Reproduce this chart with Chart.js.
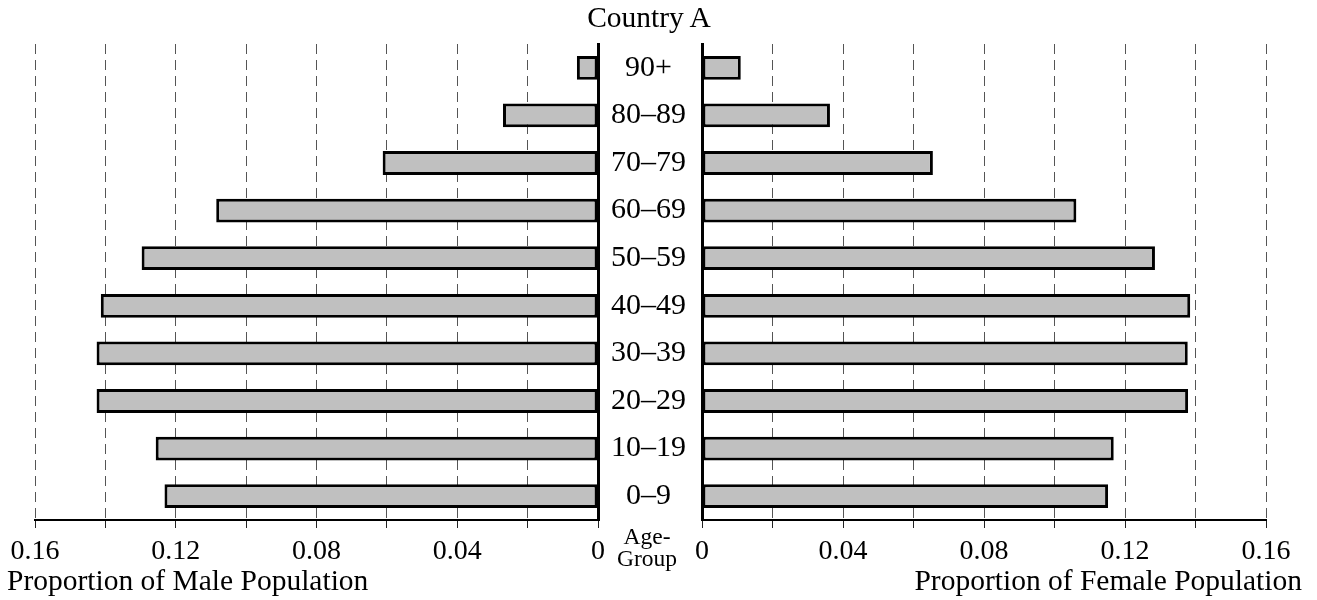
<!DOCTYPE html>
<html>
<head>
<meta charset="utf-8">
<script src="https://cdn.jsdelivr.net/npm/chart.js@4.4.0/dist/chart.umd.min.js"></script>
<style>
body { margin:0; background:#fff; width:1317px; height:600px; position:relative; overflow:hidden; font-family:"Liberation Serif", serif; color:#000; }
canvas { position:absolute; top:0; }
.txt { position:absolute; white-space:nowrap; }
</style>
</head>
<body>
<canvas id="male" width="703" height="600" style="left:0px"></canvas>
<canvas id="female" width="657" height="600" style="left:660px"></canvas>
<div class="txt" style="left:549px; width:200px; text-align:center; top:1px; font-size:29.5px;">Country A</div>
<div class="txt" style="left:597px; width:100px; text-align:center; top:525px; font-size:23.5px; line-height:22px;">Age-<br>Group</div>
<div class="txt" style="left:7px; top:564px; font-size:29.5px;">Proportion of Male Population</div>
<div class="txt" style="right:15px; top:564px; font-size:29.5px;">Proportion of Female Population</div>
<script>
var ageGroups = ['90+', '80–89', '70–79', '60–69', '50–59', '40–49', '30–39', '20–29', '10–19', '0–9'];
var maleValues = [0.006, 0.027, 0.0612, 0.1085, 0.1297, 0.1413, 0.1425, 0.1425, 0.1257, 0.1232];
var femaleValues = [0.011, 0.0363, 0.0655, 0.1062, 0.1285, 0.1385, 0.1378, 0.1379, 0.1168, 0.1152];
var axisMax = 0.16;
var gridStep = 0.02;
var labelStep = 0.04;

function tickText(v) {
    var r = Math.round(v / gridStep);
    if (r % Math.round(labelStep / gridStep) != 0) return '';
    if (r == 0) return '0';
    return v.toFixed(2);
}

function xAxis(rev) {
    return {
        type: 'linear',
        reverse: rev,
        min: 0,
        max: axisMax,
        afterFit: function(scale) { scale.height = 80; },
        ticks: {
            stepSize: gridStep,
            autoSkip: false,
            maxRotation: 0,
            padding: 7,
            color: '#000',
            font: { family: 'Liberation Serif', size: 28 },
            callback: function(value) { return tickText(value); }
        },
        grid: {
            color: '#555',
            lineWidth: 1,
            tickLength: 8,
            tickColor: '#222',
            tickWidth: 1
        },
        border: { display: true, color: '#000', width: 2, dash: [10, 6] }
    };
}

function barSet(values) {
    return {
        data: values,
        backgroundColor: '#c0c0c0',
        borderColor: '#000',
        borderWidth: 3,
        borderSkipped: false,
        categoryPercentage: 1,
        barPercentage: 0.5
    };
}

var common = {
    indexAxis: 'y',
    responsive: false,
    animation: false,
    plugins: { legend: { display: false }, tooltip: { enabled: false } }
};

var maleChart = new Chart(document.getElementById('male').getContext('2d'), {
    type: 'bar',
    data: { labels: ageGroups, datasets: [barSet(maleValues)] },
    options: Object.assign({}, common, {
        layout: { padding: { left: 35, right: 0, top: 44, bottom: 0 } },
        scales: {
            x: xAxis(true),
            y: {
                type: 'category',
                position: 'right',
                afterFit: function(scale) { scale.width = 105; },
                ticks: {
                    crossAlign: 'center',
                    padding: 13,
                    color: '#000',
                    font: { family: 'Liberation Serif', size: 30 }
                },
                grid: { drawOnChartArea: false, drawTicks: false },
                border: { display: true, color: '#000', width: 3 }
            }
        }
    })
});

var femaleChart = new Chart(document.getElementById('female').getContext('2d'), {
    type: 'bar',
    data: { labels: ageGroups, datasets: [barSet(femaleValues)] },
    options: Object.assign({}, common, {
        layout: { padding: { left: 42, right: 51, top: 44, bottom: 0 } },
        scales: {
            x: xAxis(false),
            y: {
                type: 'category',
                position: 'left',
                afterFit: function(scale) { scale.width = 0; },
                ticks: { display: false },
                grid: { drawOnChartArea: false, drawTicks: false },
                border: { display: true, color: '#000', width: 3 }
            }
        }
    })
});
</script>
</body>
</html>
